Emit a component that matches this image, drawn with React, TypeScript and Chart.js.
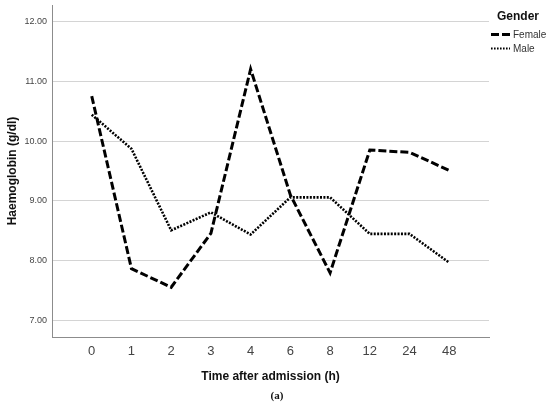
import React, { useEffect, useRef } from "react";
import { Chart, registerables } from "chart.js";

Chart.register(...registerables);

const categories = ["0", "1", "2", "3", "4", "6", "8", "12", "24", "48"];
const femaleValues = [10.75, 7.87, 7.56, 8.46, 11.2, 9.1, 7.8, 9.85, 9.81, 9.51];
const maleValues = [10.44, 9.87, 8.51, 8.81, 8.44, 9.06, 9.06, 8.45, 8.45, 7.97];
const yTickValues = [7, 8, 9, 10, 11, 12];
const legendTitle = "Gender";
const seriesNames = ["Female", "Male"];

const FONT = "Arial, 'Liberation Sans', Helvetica, sans-serif";

const legendPlugin = {
  id: "customLegend",
  afterDraw(chart: any) {
    const ctx = chart.ctx;
    const x0 = chart.chartArea.right + 2;
    ctx.save();
    ctx.fillStyle = "#111";
    ctx.font = `bold 12px ${FONT}`;
    ctx.textBaseline = "middle";
    ctx.textAlign = "left";
    ctx.fillText(legendTitle, x0 + 6, 17);
    const items = [
      { name: seriesNames[0], dash: [8, 3], width: 3, y: 35, len: 19 },
      { name: seriesNames[1], dash: [1.6, 1.4], width: 2.2, y: 49, len: 19 },
    ];
    items.forEach((it) => {
      ctx.beginPath();
      ctx.setLineDash(it.dash);
      ctx.lineWidth = it.width;
      ctx.strokeStyle = "#000";
      ctx.moveTo(x0, it.y - 0.5);
      ctx.lineTo(x0 + it.len, it.y - 0.5);
      ctx.stroke();
      ctx.setLineDash([]);
      ctx.fillStyle = "#333";
      ctx.font = `10px ${FONT}`;
      ctx.fillText(it.name, x0 + 22, it.y + 0.5);
    });
    ctx.restore();
  },
};

export default function App() {
  const canvasRef = useRef<HTMLCanvasElement | null>(null);

  useEffect(() => {
    document.body.style.margin = "0";
    const canvas = canvasRef.current;
    if (!canvas) return;
    const chart = new Chart(canvas, {
      type: "line",
      data: {
        datasets: [
          {
            label: seriesNames[0],
            data: femaleValues.map((v, i) => ({ x: i, y: v })),
            borderColor: "#000",
            borderWidth: 3,
            borderDash: [8, 3],
            pointRadius: 0,
            fill: false,
            tension: 0,
          },
          {
            label: seriesNames[1],
            data: maleValues.map((v, i) => ({ x: i, y: v })),
            borderColor: "#000",
            borderWidth: 2.6,
            borderDash: [2, 1.4],
            pointRadius: 0,
            fill: false,
            tension: 0,
          },
        ],
      },
      options: {
        animation: false,
        responsive: false,
        devicePixelRatio: 1,
        layout: { padding: { left: 0, top: 5, right: 61, bottom: 0 } },
        plugins: {
          legend: { display: false },
          tooltip: { enabled: false },
        },
        scales: {
          x: {
            type: "linear",
            min: -1,
            max: 10,
            afterBuildTicks: (scale: any) => {
              scale.ticks = categories.map((_, i) => ({ value: i }));
            },
            afterFit: (scale: any) => {
              scale.height = 68;
              scale.paddingLeft = 0;
              scale.paddingRight = 0;
            },
            ticks: {
              callback: (v: any) => categories[v] ?? "",
              color: "#444",
              font: { family: FONT, size: 13 },
              padding: 7,
              maxRotation: 0,
              autoSkip: false,
            },
            grid: { display: false, drawTicks: false },
            border: { display: true, color: "#8c8c8c", width: 1 },
            title: {
              display: true,
              text: "Time after admission (h)",
              color: "#111",
              font: { family: FONT, size: 12, weight: "bold", lineHeight: 1.2 },
              padding: { top: 0, bottom: 21 },
            },
          },
          y: {
            type: "linear",
            min: 6.73,
            max: 12.27,
            afterBuildTicks: (scale: any) => {
              scale.ticks = yTickValues.map((v) => ({ value: v }));
            },
            afterFit: (scale: any) => {
              scale.width = 52;
              scale.paddingTop = 0;
              scale.paddingBottom = 0;
            },
            ticks: {
              callback: (v: any) => Number(v).toFixed(2),
              color: "#444",
              font: { family: FONT, size: 9 },
              padding: 5,
            },
            grid: { color: "#d4d4d4", lineWidth: 1, drawTicks: false },
            border: { display: true, color: "#8c8c8c", width: 1 },
            title: {
              display: true,
              text: "Haemoglobin (g/dl)",
              color: "#111",
              font: { family: FONT, size: 12, weight: "bold", lineHeight: 1.2 },
              padding: { top: 5, bottom: 0 },
            },
          },
        },
      },
      plugins: [legendPlugin],
    } as any);
    return () => chart.destroy();
  }, []);

  return (
    <div style={{ position: "relative", width: 550, height: 405, background: "#fff" }}>
      <canvas ref={canvasRef} width={550} height={405} style={{ display: "block" }} />
      <div
        style={{
          position: "absolute",
          left: 0,
          width: 550,
          top: 388,
          textAlign: "center",
          paddingLeft: 4,
          boxSizing: "border-box",
          fontFamily: "'Times New Roman', 'Liberation Serif', serif",
          fontWeight: "bold",
          fontSize: 11,
          lineHeight: "14px",
          color: "#111",
        }}
      >
        (a)
      </div>
    </div>
  );
}
